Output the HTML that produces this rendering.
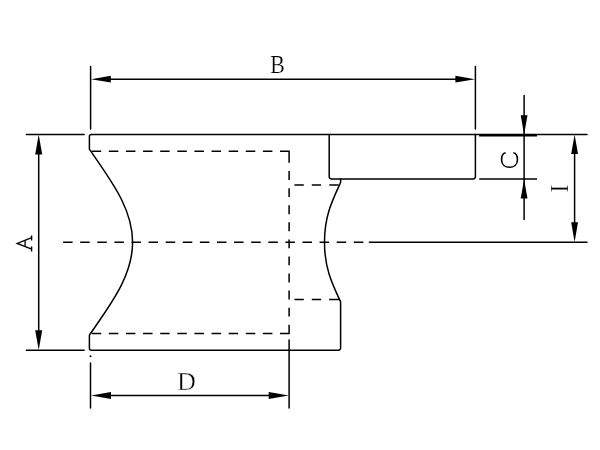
<!DOCTYPE html>
<html><head><meta charset="utf-8"><style>
html,body{margin:0;padding:0;background:#fff;width:600px;height:450px;overflow:hidden}
svg{display:block;will-change:transform}
text{font-family:"Liberation Serif",serif;font-size:25px;fill:#000;stroke:#fff;stroke-width:0.25px;paint-order:fill}
</style></head><body>
<svg width="600" height="450" viewBox="0 0 600 450">
<g fill="none" stroke="#000" stroke-width="1.5" stroke-linecap="round" stroke-linejoin="round">
<line x1="90.6" y1="66.6" x2="90.6" y2="129.1"/>
<line x1="475.4" y1="66.6" x2="475.4" y2="129.1"/>
<line x1="100" y1="79.2" x2="466" y2="79.2"/>
<line x1="26.4" y1="134.4" x2="84.2" y2="134.4"/>
<line x1="26.4" y1="350.2" x2="84.1" y2="350.2"/>
<line x1="38.7" y1="145" x2="38.7" y2="340"/>
<line x1="91.4" y1="134.4" x2="587" y2="134.4"/>
<line x1="369.4" y1="242.3" x2="587" y2="242.3"/>
<path d="M91.4 134.4A2 2 0 0 0 89.4 136.4V149.2C108.68 177.82 132.6 207.11 132.6 242.2C132.6 277.29 108.68 306.58 89.4 335.2V348.2A2 2 0 0 0 91.4 350.2H338.4A2.2 2.2 0 0 0 340.6 348V301.9C332.3 284 324.5 268.7 324.5 242.2C324.5 215.7 332.3 200.5 340.6 182.5V178.9"/>
<path d="M329.2 134.4V176.7A2.2 2.2 0 0 0 331.4 178.9H473.2A2.2 2.2 0 0 0 475.4 176.7V134.4"/>
<line x1="479.2" y1="135.7" x2="537" y2="135.7" stroke-linecap="butt"/>
<line x1="479.2" y1="178.9" x2="537" y2="178.9" stroke-linecap="butt"/>
<line x1="524.1" y1="95.6" x2="524.1" y2="219.4"/>
<line x1="574.6" y1="144" x2="574.6" y2="232"/>
<line x1="90.5" y1="362.9" x2="90.5" y2="408"/>
<line x1="289.1" y1="340.1" x2="289.1" y2="408"/>
<line x1="100" y1="395.6" x2="279" y2="395.6"/>
</g>
<circle cx="90.5" cy="356.3" r="1" fill="#000"/>
<path fill="none" stroke="#000" stroke-width="1.5" stroke-linecap="butt" stroke-linejoin="miter" d="M63.10 242.3H72.60M80.20 242.3H89.70M97.30 242.3H106.80M114.40 242.3H123.90M131.50 242.3H141.00M148.60 242.3H158.10M165.70 242.3H175.20M182.80 242.3H192.30M199.90 242.3H209.40M217.00 242.3H226.50M234.10 242.3H243.60M251.20 242.3H260.70M268.30 242.3H277.80M285.40 242.3H294.90M302.50 242.3H312.00M319.60 242.3H329.10M336.70 242.3H346.20M353.80 242.3H363.30M91.70 151.2H101.20M108.82 151.2H118.32M125.94 151.2H135.44M143.06 151.2H152.56M160.18 151.2H169.68M177.30 151.2H186.80M194.42 151.2H203.92M211.54 151.2H221.04M228.66 151.2H238.16M245.78 151.2H255.28M262.90 151.2H272.40M280.02 151.2H289.1V162.7M91.70 333.4H101.20M108.82 333.4H118.32M125.94 333.4H135.44M143.06 333.4H152.56M160.18 333.4H169.68M177.30 333.4H186.80M194.42 333.4H203.92M211.54 333.4H221.04M228.66 333.4H238.16M245.78 333.4H255.28M262.90 333.4H272.40M280.02 333.4H289.1V324.73M289.1 171.10V180.00M289.1 188.17V197.07M289.1 205.24V214.14M289.1 222.31V231.21M289.1 239.38V248.28M289.1 256.45V265.35M289.1 273.52V282.42M289.1 290.59V299.49M289.1 307.66V316.56M294.50 184.9H303.80M311.80 184.9H321.10M329.30 184.9H338.60M294.50 299.6H303.80M311.80 299.6H321.10M329.10 299.6H339.20"/>
<g fill="#000" stroke="none">
<polygon points="91,79.2 110.8,75.8 110.8,82.6"/>
<polygon points="475,79.2 455.4,75.8 455.4,82.6"/>
<polygon points="38.7,134.6 35.2,154.6 42.2,154.6"/>
<polygon points="38.7,350 35.2,330.3 42.2,330.3"/>
<polygon points="524.1,134.4 520.7,115.2 527.5,115.2"/>
<polygon points="524.1,179.2 520.7,198.5 527.5,198.5"/>
<polygon points="574.6,134.4 571.2,154.1 578,154.1"/>
<polygon points="574.6,242.1 571.2,222.3 578,222.3"/>
<polygon points="91,395.6 111,392.1 111,399.1"/>
<polygon points="288.7,395.6 268.7,392.1 268.7,399.1"/>
</g>
<text transform="translate(277.5,72.6) scale(0.875,0.97)" text-anchor="middle">B</text>
<text transform="translate(186.4,389.7) scale(1.05,0.99)" text-anchor="middle" style="stroke-width:0.45px">D</text>
<g fill="none" stroke="#000" stroke-width="1.5" stroke-linecap="butt" stroke-linejoin="miter">
<path d="M31.7 237.7L17.2 243.4L31.7 249.1M31.6 235.4V240.4M31.6 246.4V251.4" stroke-width="1.4"/><path d="M25.1 240.2V246.6" stroke-width="1.3"/>
<path d="M505.7 152.8C503.2 153 501.6 155.5 501.6 159.9C501.6 164.7 505.2 167.3 509.5 167.3C513.9 167.3 517.4 164.7 517.4 159.9C517.4 155.5 515.8 153 513.3 152.8" stroke-width="1.6"/>
</g>
<text transform="translate(567.9,188.6) rotate(-90)" text-anchor="middle">I</text>
</svg>
</body></html>
